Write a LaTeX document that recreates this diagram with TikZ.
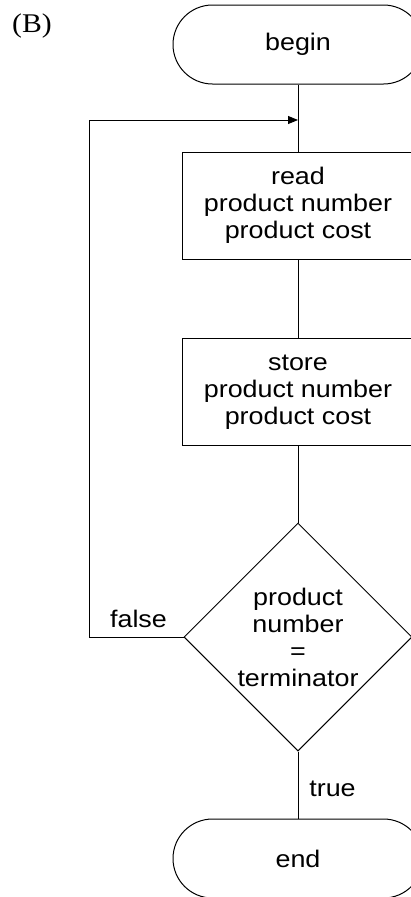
\documentclass[tikz,border=0pt]{standalone}
\usepackage{fontspec}
\setmainfont{Liberation Sans}[FakeStretch=1.12]
\newfontfamily\labelserif{Liberation Serif}[FakeStretch=1.1]
\usetikzlibrary{shapes.geometric,arrows.meta}
\begin{document}
\begin{tikzpicture}[x=1pt,y=-1pt,
  every node/.style={font=\fontsize{24}{27}\selectfont},
  terminal/.style={draw,line width=1pt,rectangle,rounded corners=39.5pt,
    minimum width=250pt,minimum height=79pt,inner sep=0pt},
  process/.style={draw,line width=1pt,rectangle,align=center,
    minimum width=232pt,minimum height=107pt,inner sep=0pt},
  decision/.style={draw,line width=1pt,diamond,aspect=1,align=center,
    minimum width=228pt,minimum height=228pt,inner sep=0pt},
  flow/.style={line width=1pt},
  edgelabel/.style={inner sep=0pt,anchor=base}]
  \useasboundingbox (0,0) rectangle (411,897);
  \clip (0,0) rectangle (411,897);

  \node[inner sep=0pt,anchor=base west,font=\labelserif\fontsize{27}{29}\selectfont] (tag) at (12,32) {(B)};

  \node[terminal] (begin) at (298,44.5) {begin};
  \node[process] (read) at (298,205.5) {read\\product number\\product cost};
  \node[process] (store) at (298,392) {store\\product number\\product cost};
  \node[decision] (test) at (298,637) {product\\number\\=\\terminator};
  \node[terminal] (end) at (298,858.5) {end};

  \coordinate (loopbot) at (89,637);
  \coordinate (looptop) at (89,120);
  \coordinate (join) at (298,120);

  \draw[flow] (begin.south) -- (read.north);
  \draw[flow] (read.south) -- (store.north);
  \draw[flow] (store.south) -- (test.north);
  \draw[flow] (test.south) -- (end.north);
  \draw[flow,-{Triangle[length=10pt,width=8pt]}] (test.west) -- (loopbot) -- (looptop) -- (join);

  \node[edgelabel] (falselbl) at (138.5,627) {false};
  \node[edgelabel] (truelbl) at (332.5,796) {true};
\end{tikzpicture}
\end{document}
